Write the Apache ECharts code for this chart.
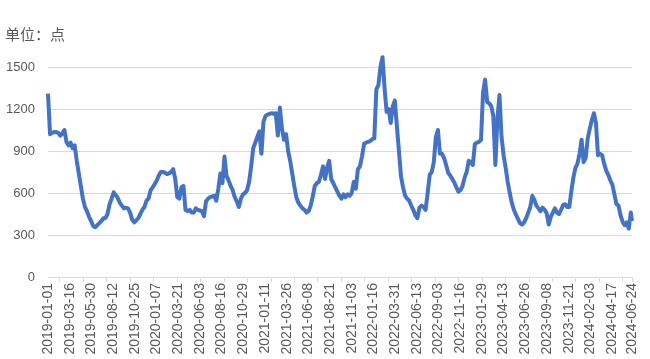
<!DOCTYPE html>
<html>
<head>
<meta charset="utf-8">
<script src="https://cdn.jsdelivr.net/npm/echarts@6/dist/echarts.min.js"></script>
<style>
html,body{margin:0;padding:0;background:#fff;}
#chart{width:650px;height:359px;}
</style>
</head>
<body>
<div id="chart"></div>
<script>
// ---- data ----
const startDate = '2019-01-01';
const endDate = '2024-06-24';
const missingDates = ['2019-05-01', '2022-08-01', '2022-08-02', '2022-08-03', '2022-08-04',
  '2022-08-05', '2022-08-06', '2022-08-07', '2022-08-08'];
const sampleStep = 7;      // one reading every 7 categories
const sampledValues = [
  1310,1020,1030,1035,1035,1030,1010,1025,1050,965,
  940,960,920,940,830,740,650,560,500,470,
  430,400,365,355,370,385,400,420,420,450,
  520,560,605,585,565,530,510,490,495,490,
  460,410,390,405,420,450,480,
  500,545,560,620,640,665,690,725,750,750,
  745,735,740,750,770,700,570,560,640,650,
  480,470,480,460,460,490,480,475,470,435,
  540,560,570,575,580,545,630,740,670,860,
  720,690,650,620,570,540,500,560,590,
  600,620,680,790,920,960,1000,1040,880,1110,
  1150,1160,1165,1170,1165,1170,1010,1210,1060,980,
  1020,900,830,740,650,570,530,510,490,480,
  460,470,510,575,650,670,680,730,790,700,
  780,830,700,670,640,610,580,560,
  590,570,590,580,600,680,630,770,790,860,
  950,960,965,970,985,990,1340,1370,1500,1570,
  1350,1180,1200,1100,1220,1260,1080,900,720,640,
  580,560,545,510,480,440,420,495,510,500,
  480,600,730,750,820,1000,1050,880,
  880,850,800,745,725,700,675,640,610,620,
  650,710,750,830,820,800,950,960,965,980,
  1320,1410,1250,1240,1220,1150,800,1130,1300,1000,
  870,780,680,600,530,480,445,415,385,375,
  390,420,460,500,580,550,510,490,470,
  495,480,455,375,430,460,490,460,450,480,
  515,520,500,500,610,710,780,810,880,980,
  820,850,990,1060,1120,1170,1100,870,880,870,
  810,760,730,690,660,590,520,510,440,395,
  370,390,345,460
];
const lastValue = 400;
const labelStep = 74;
const yTicks = [0, 300, 600, 900, 1200, 1500];

// ---- build categories ----
const categories = [];
(function () {
  const d = new Date(startDate + 'T00:00:00Z');
  const end = new Date(endDate + 'T00:00:00Z');
  while (d <= end) {
    const s = d.toISOString().slice(0, 10);
    if (missingDates.indexOf(s) < 0) categories.push(s);
    d.setUTCDate(d.getUTCDate() + 1);
  }
})();
const N = categories.length;
const seriesData = categories.map(function (_, i) {
  if (i === N - 1) return lastValue;
  if (i % sampleStep === 0 && i / sampleStep < sampledValues.length) return sampledValues[i / sampleStep];
  return null;
});

const chart = echarts.init(document.getElementById('chart'), null, {renderer: 'canvas'});
chart.setOption({
  animation: false,
  backgroundColor: '#ffffff',
  title: {
    text: '单位：点',
    left: 5, top: 27, padding: 0,
    textStyle: {fontSize: 15, fontWeight: 'normal', color: '#595959', fontFamily: 'Noto Sans CJK SC'}
  },
  grid: {left: 48, right: 18, top: 67, bottom: 82, containLabel: false},
  xAxis: {
    type: 'category',
    data: categories,
    boundaryGap: false,
    axisLine: {lineStyle: {color: '#d9d9d9', width: 1}},
    axisTick: {
      show: true, length: 5,
      interval: function (i) { return ((i - 40) % 80 === 0 && i >= 40) || i === N - 1; },
      lineStyle: {color: '#d9d9d9'}
    },
    axisLabel: {
      interval: function (i) { return i % labelStep === 0 || i === N - 1; },
      rotate: 90, margin: 6,
      fontSize: 14, color: '#595959', fontFamily: 'Liberation Sans'
    },
    splitLine: {show: false}
  },
  yAxis: {
    type: 'value',
    min: yTicks[0], max: yTicks[yTicks.length - 1], interval: yTicks[1] - yTicks[0],
    axisLine: {show: false},
    axisTick: {show: false},
    axisLabel: {
      fontSize: 13, color: '#595959', margin: 13, fontFamily: 'Liberation Sans',
      formatter: function (v) { return String(v); }
    },
    splitLine: {lineStyle: {color: '#d9d9d9', width: 1}}
  },
  series: [{
    type: 'line',
    data: seriesData,
    connectNulls: true,
    showSymbol: false,
    symbol: 'none',
    clip: false,
    lineStyle: {color: '#4472C4', width: 4, join: 'round'},
    itemStyle: {color: '#4472C4'}
  }]
});
</script>
</body>
</html>
